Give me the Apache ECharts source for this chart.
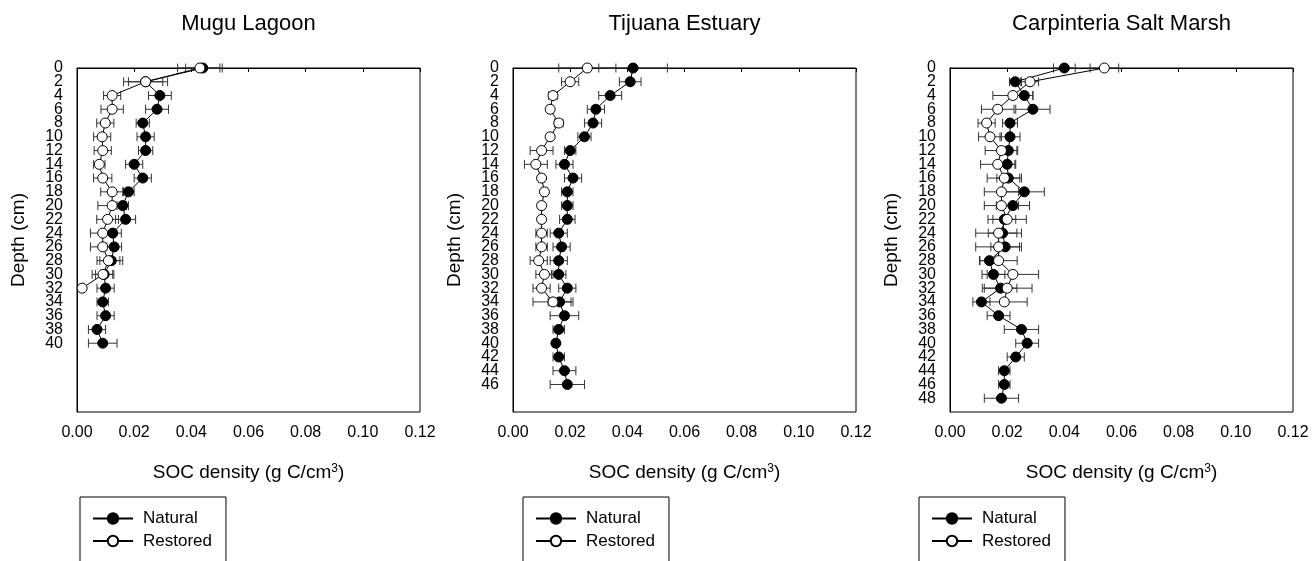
<!DOCTYPE html>
<html>
<head>
<meta charset="utf-8">
<script src="https://cdn.jsdelivr.net/npm/echarts@6/dist/echarts.min.js"></script>
<style>
  html, body { margin: 0; padding: 0; background: #fff; }
  #chart { width: 1312px; height: 561px; }
</style>
</head>
<body>
<div id="chart"></div>
<script>
// Mugu Lagoon
const muguNatDepth = [0, 2, 4, 6, 8, 10, 12, 14, 16, 18, 20, 22, 24, 26, 28, 30, 32, 34, 36, 38, 40]
const muguNat = [0.044, 0.024, 0.029, 0.028, 0.023, 0.024, 0.024, 0.020, 0.023, 0.018, 0.016, 0.017, 0.0125, 0.013, 0.012, 0.0095, 0.010, 0.009, 0.010, 0.007, 0.009]
const muguNatErr = [0.006, 0.006, 0.004, 0.004, 0.0023, 0.003, 0.0025, 0.003, 0.003, 0.002, 0.002, 0.0035, 0.003, 0.0026, 0.004, 0.003, 0.003, 0.002, 0.003, 0.003, 0.005]
const muguResDepth = [0, 2, 4, 6, 8, 10, 12, 14, 16, 18, 20, 22, 24, 26, 28, 30, 32]
const muguRes = [0.043, 0.024, 0.0123, 0.0123, 0.0099, 0.0088, 0.009, 0.0078, 0.009, 0.0123, 0.0123, 0.0107, 0.009, 0.009, 0.011, 0.0091, 0.0018]
const muguResErr = [0.0078, 0.0077, 0.003, 0.0039, 0.003, 0.003, 0.003, 0.002, 0.0032, 0.004, 0.005, 0.0038, 0.0043, 0.0043, 0.004, 0.0038, 0]

// Tijuana Estuary
const tijNatDepth = [0, 2, 4, 6, 8, 10, 12, 14, 16, 18, 20, 22, 24, 26, 28, 30, 32, 34, 36, 38, 40, 42, 44, 46]
const tijNat = [0.042, 0.041, 0.034, 0.029, 0.028, 0.025, 0.020, 0.018, 0.021, 0.019, 0.019, 0.019, 0.016, 0.017, 0.016, 0.016, 0.019, 0.0163, 0.018, 0.016, 0.015, 0.016, 0.018, 0.019]
const tijNatErr = [0.012, 0.0038, 0.004, 0.003, 0.003, 0.0023, 0.002, 0.003, 0.003, 0.002, 0.002, 0.0027, 0.003, 0.003, 0.003, 0.0025, 0.003, 0.004, 0.005, 0.002, 0.001, 0.002, 0.004, 0.006]
const tijResDepth = [0, 2, 4, 6, 8, 10, 12, 14, 16, 18, 20, 22, 24, 26, 28, 30, 32, 34]
const tijRes = [0.026, 0.020, 0.014, 0.013, 0.016, 0.013, 0.010, 0.008, 0.010, 0.011, 0.010, 0.010, 0.010, 0.010, 0.009, 0.011, 0.010, 0.014]
const tijResErr = [0.010, 0.003, 0.0015, 0.001, 0.0015, 0.001, 0.004, 0.004, 0.001, 0.001, 0.001, 0.001, 0.002, 0.002, 0.003, 0.003, 0.003, 0.007]

// Carpinteria Salt Marsh
const carpNatDepth = [0, 2, 4, 6, 8, 10, 12, 14, 16, 18, 20, 22, 24, 26, 28, 30, 32, 34, 36, 38, 40, 42, 44, 46, 48]
const carpNat = [0.040, 0.0228, 0.026, 0.029, 0.021, 0.021, 0.0204, 0.020, 0.0204, 0.026, 0.022, 0.019, 0.0184, 0.0193, 0.0138, 0.0152, 0.0177, 0.011, 0.017, 0.025, 0.027, 0.023, 0.019, 0.019, 0.018]
const carpNatErr = [0.0038, 0.002, 0.003, 0.006, 0.0026, 0.0035, 0.003, 0.003, 0.004, 0.007, 0.0058, 0.004, 0.005, 0.005, 0.0035, 0.004, 0.0057, 0.003, 0.004, 0.006, 0.004, 0.003, 0.002, 0.002, 0.006]
const carpResDepth = [0, 2, 4, 6, 8, 10, 12, 14, 16, 18, 20, 22, 24, 26, 28, 30, 32, 34]
const carpRes = [0.054, 0.028, 0.022, 0.0167, 0.0128, 0.014, 0.018, 0.0167, 0.019, 0.018, 0.018, 0.020, 0.017, 0.017, 0.017, 0.022, 0.020, 0.019]
const carpResErr = [0.005, 0.003, 0.007, 0.0057, 0.003, 0.004, 0.0057, 0.006, 0.006, 0.006, 0.006, 0.0067, 0.008, 0.008, 0.0065, 0.009, 0.0087, 0.008]

const titles = ['Mugu Lagoon', 'Tijuana Estuary', 'Carpinteria Salt Marsh']

const panels = [
  {nd: muguNatDepth, n: muguNat, ne: muguNatErr, rd: muguResDepth, r: muguRes, re: muguResErr},
  {nd: tijNatDepth, n: tijNat, ne: tijNatErr, rd: tijResDepth, r: tijRes, re: tijResErr},
  {nd: carpNatDepth, n: carpNat, ne: carpNatErr, rd: carpResDepth, r: carpRes, re: carpResErr}
]

const font = 'Arial, "Liberation Sans", sans-serif'
const lefts = [77, 513, 950]
const plotW = 343
const legendLefts = [80, 523, 919]

function errorBars(name, depths, means, errs, idx) {
  return {
    type: 'custom',
    name: name,
    xAxisIndex: idx,
    yAxisIndex: idx,
    z: 1,
    silent: true,
    data: depths.map((d, i) => [means[i], d, errs[i]]),
    encode: {x: 0, y: 1},
    renderItem: (params, api) => {
      const x = api.value(0), d = api.value(1), e = api.value(2)
      if (!e) return
      const lo = api.coord([x - e, d])
      const hi = api.coord([x + e, d])
      const h = 4.5
      const st = {stroke: '#333', lineWidth: 1}
      return {
        type: 'group',
        children: [
          {type: 'line', shape: {x1: lo[0], y1: lo[1], x2: hi[0], y2: hi[1]}, style: st},
          {type: 'line', shape: {x1: lo[0], y1: lo[1] - h, x2: lo[0], y2: lo[1] + h}, style: st},
          {type: 'line', shape: {x1: hi[0], y1: hi[1] - h, x2: hi[0], y2: hi[1] + h}, style: st}
        ]
      }
    }
  }
}

function depthAxis(i, values, main) {
  return {
    type: 'value', gridIndex: i, min: 0, max: 50, interval: 2, inverse: true, position: 'left',
    name: main ? 'Depth (cm)' : '', nameLocation: 'middle', nameGap: 49,
    nameTextStyle: {fontSize: 19, color: '#000', fontFamily: font},
    axisLine: {show: main, lineStyle: {color: '#000'}},
    axisTick: {show: false},
    axisLabel: {fontSize: 16, color: '#000', fontFamily: font, margin: 14,
      customValues: values, showMinLabel: true, showMaxLabel: true},
    splitLine: {show: false}
  }
}

let myChart = echarts.init(document.getElementById('chart'))

const grid = [], xAxis = [], yAxis = [], yAxisAlt = [], series = [], title = [], legend = []

panels.forEach((p, i) => {
  // label every sampled depth; the labels are split over two axes so tight ones are not dropped
  const depthLabels = p.nd.length >= p.rd.length ? p.nd : p.rd
  grid.push({left: lefts[i], top: 68, width: plotW, height: 344, show: true, borderColor: '#000', borderWidth: 1})
  title.push({
    text: titles[i], left: lefts[i] + plotW / 2, textAlign: 'center', top: 13, padding: 0,
    textStyle: {fontSize: 22, fontWeight: 'normal', color: '#000', fontFamily: font}
  })
  xAxis.push({
    type: 'value', gridIndex: i, min: 0, max: 0.12, interval: 0.02,
    name: 'SOC density (g C/cm{sup|3})', nameLocation: 'middle', nameGap: 51,
    nameTextStyle: {fontSize: 19, color: '#000', fontFamily: font,
      rich: {sup: {fontSize: 12, color: '#000', fontFamily: font, verticalAlign: 'top'}}},
    axisLine: {lineStyle: {color: '#000'}},
    axisTick: {show: true, length: 4, lineStyle: {color: '#000'}},
    axisLabel: {fontSize: 16, color: '#000', fontFamily: font, margin: 13, formatter: v => v.toFixed(2)},
    splitLine: {show: false}
  })
  yAxis.push(depthAxis(i, depthLabels.filter((d, k) => k % 2 === 0), true))
  yAxisAlt.push(depthAxis(i, depthLabels.filter((d, k) => k % 2 === 1), false))
  series.push(errorBars('Natural SE', p.nd, p.n, p.ne, i))
  series.push(errorBars('Restored SE', p.rd, p.r, p.re, i))
  series.push({
    name: 'Natural', type: 'line', xAxisIndex: i, yAxisIndex: i, z: 2,
    data: p.nd.map((d, k) => [p.n[k], d]),
    symbol: 'circle', symbolSize: 10,
    itemStyle: {color: '#000', borderColor: '#000', borderWidth: 1},
    lineStyle: {color: '#000', width: 1}
  })
  series.push({
    name: 'Restored', type: 'line', xAxisIndex: i, yAxisIndex: i, z: 3,
    data: p.rd.map((d, k) => [p.r[k], d]),
    symbol: 'circle', symbolSize: 10,
    itemStyle: {color: '#fff', borderColor: '#000', borderWidth: 1},
    lineStyle: {color: '#000', width: 1}
  })
  legend.push({
    data: ['Natural', 'Restored'], orient: 'vertical',
    left: legendLefts[i], top: 497, width: 120, height: 80,
    padding: [13, 14, 30, 12], itemWidth: 40, itemHeight: 13, itemGap: 5.5,
    borderColor: '#000', borderWidth: 1,
    textStyle: {fontSize: 17, color: '#000', fontFamily: font, padding: [0, 0, 0, 5]}
  })
})

myChart.setOption({
  animation: false,
  backgroundColor: '#fff',
  title: title,
  legend: legend,
  grid: grid,
  xAxis: xAxis,
  yAxis: yAxis.concat(yAxisAlt),
  series: series
})
</script>
</body>
</html>
